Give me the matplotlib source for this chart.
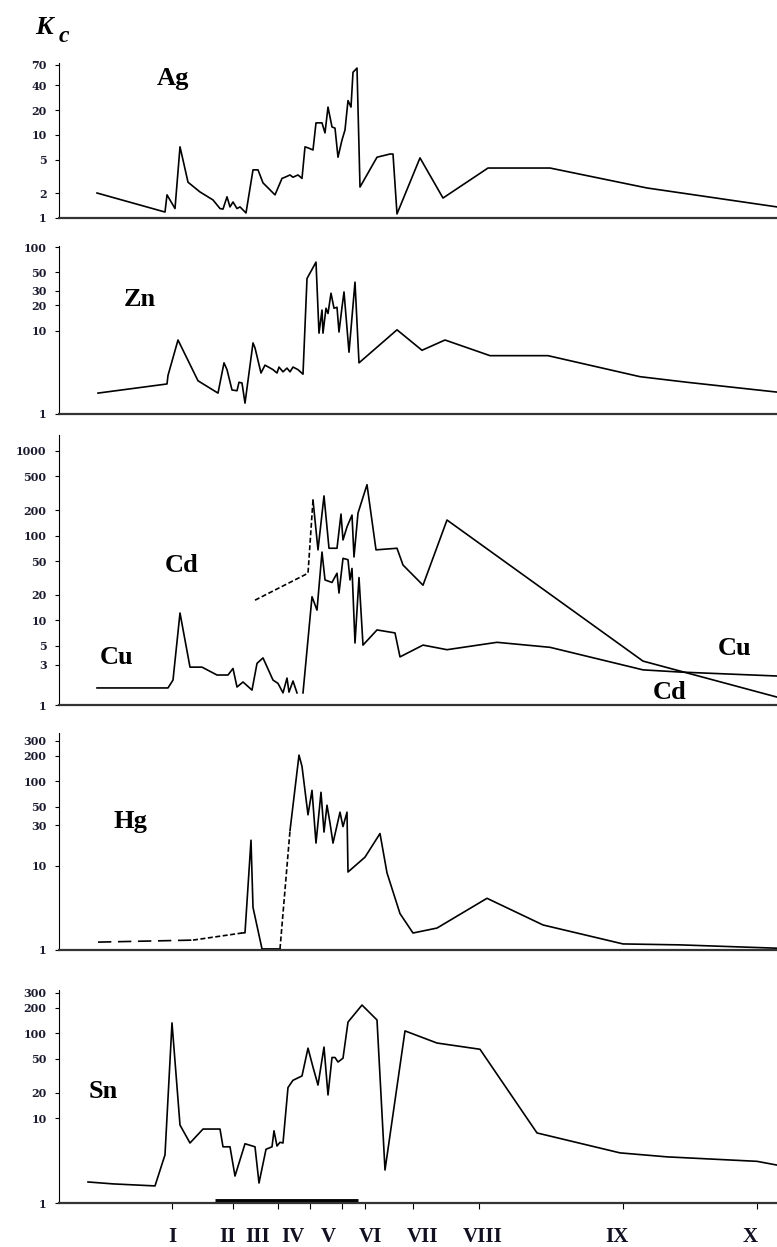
import numpy as np
import matplotlib
matplotlib.use("Agg")
import matplotlib.pyplot as plt
from matplotlib.ticker import FixedLocator, FixedFormatter, NullLocator

plt.rcParams['font.family'] = ['Liberation Serif', 'DejaVu Serif']

# x = distance along profile (chart units), y = Kc
ag_x = [97,165,167,175,180,183,188,200,213,220,223,227,230,233,237,240,246,253,258,263,
        275,282,285,290,293,298,302,305,308,313,316,322,325,328,332,335,338,342,345,348,
        351,353,357,360,377,390,393,397,420,443,488,550,647,777]
ag_y = [2.0,1.18,1.9,1.3,7.2,5.0,2.7,2.06,1.65,1.3,1.28,1.8,1.36,1.56,1.3,1.36,1.15,3.8,3.8,2.65,
        1.9,3.0,3.1,3.3,3.1,3.3,3.0,7.2,7.0,6.6,14,14,10.6,21.7,12.5,12.1,5.4,8.7,11.5,26,
        21.7,57,64,2.36,5.4,5.9,5.9,1.12,5.3,1.74,4.0,4.0,2.3,1.36]

zn_x = [98,167,168,178,198,218,224,227,232,237,239,242,245,253,255,261,265,273,277,279,
        283,287,290,293,298,303,307,316,319,322,323,326,328,331,334,337,339,342,344,349,
        355,359,397,422,445,490,548,640,687,777]
zn_y = [1.78,2.29,2.9,7.7,2.5,1.78,4.1,3.4,1.94,1.9,2.4,2.35,1.35,7.1,6.2,3.1,3.85,3.4,3.1,3.65,
        3.2,3.55,3.2,3.65,3.4,3.0,42,66,9.3,17.6,9.3,18.5,16,28,18.5,19,9.6,19,29,5.5,
        38,4.1,10.2,5.8,7.7,5.0,5.0,2.8,2.4,1.83]

cu_x1 = [97,168,173,180,190,202,217,228,233,237,243,252,257,263,273,278,283,287,289,293,297]
cu_y1 = [1.59,1.59,1.97,12.2,2.8,2.8,2.26,2.26,2.7,1.63,1.87,1.5,3.1,3.6,1.97,1.8,1.39,2.08,1.42,1.92,1.39]
cu_x2 = [303,312,317,322,325,332,337,339,343,348,350,352,355,359,363,377,395,400,423,447,497,550,643,680,777]
cu_y2 = [1.39,19,13.2,64,30,28,36,21,54,52,30,41,5.4,32,5.1,7.7,7.1,3.7,5.1,4.5,5.5,4.8,2.6,2.45,2.2]

cd_dash_x = [255,308,313]
cd_dash_y = [17.3,36,263]
cd_x = [313,318,324,329,337,341,343,347,352,354,358,367,376,397,403,423,447,643,777]
cd_y = [263,68,295,71,71,180,89,127,175,56,185,400,68,71,45,26,153,3.3,1.24]

hg_d1_x = [98,193]
hg_d1_y = [1.24,1.31]
hg_d2_x = [193,242]
hg_d2_y = [1.31,1.59]
hg_s1_x = [242,245,251,253,262,280]
hg_s1_y = [1.59,1.6,20,3.2,1.03,1.03]
hg_d3_x = [280,290]
hg_d3_y = [1.03,26]
hg_s2_x = [290,299,302,308,312,316,321,324,327,330,333,340,343,347,348,365,380,387,400,413,
           437,487,543,623,680,777]
hg_s2_y = [26,204,150,40,78,18.5,74,25,52,32,18.5,43,29,43,8.4,12.6,24,8.2,2.7,1.59,
           1.82,4.1,1.98,1.18,1.15,1.05]

sn_x = [88,113,155,165,172,180,190,203,220,223,230,235,245,255,259,266,272,274,277,280,
        283,288,293,302,308,313,318,324,328,332,335,338,343,348,362,377,385,405,437,480,
        537,620,667,757,777]
sn_y = [1.77,1.68,1.59,3.7,133,8.3,5.1,7.45,7.45,4.6,4.6,2.08,5.0,4.6,1.72,4.3,4.6,7.1,4.7,5.2,
        5.1,23,28,31.5,67,40,24.6,69,18.8,52,52,46,51,136,216,144,2.45,107,77,65,
        6.7,3.9,3.5,3.1,2.8]

# zones on the bottom axis
zone_ticks = [172,233,278,310,342,365,413,479,623,757]
zone_pos = [172,227,258,293,328,370,423,483,617,750]
zone_names = ['I','II','III','IV','V','VI','VII','VIII','IX','X']
bar_x = [215,358]

ag_ticks = [1,2,5,10,20,40,70]
zn_ticks = [1,10,20,30,50,100]
cd_ticks = [1,3,5,10,20,50,100,200,500,1000]
hg_ticks = [1,10,30,50,100,200,300]
sn_ticks = [1,10,20,50,100,200,300]

W, H = 777, 1247
fig = plt.figure(figsize=(W/100, H/100), dpi=100)

def make_ax(top, bottom, ymax, ticks):
    ax = fig.add_axes([59/W, 1-bottom/H, 1-59/W, (bottom-top)/H])
    ax.set_yscale('log')
    ax.set_xlim(59, 777)
    ax.set_ylim(1, ymax)
    ax.yaxis.set_major_locator(FixedLocator(ticks))
    ax.yaxis.set_major_formatter(FixedFormatter([str(t) for t in ticks]))
    ax.yaxis.set_minor_locator(NullLocator())
    ax.set_xticks([])
    ax.spines['top'].set_visible(False)
    ax.spines['right'].set_visible(False)
    ax.spines['left'].set_linewidth(0.8)
    ax.spines['bottom'].set_linewidth(1.6)
    ax.spines['bottom'].set_color('#333333')
    ax.tick_params(axis='y', length=3, width=0.8, pad=6)
    for lab in ax.get_yticklabels():
        lab.set_fontfamily('DejaVu Serif')
        lab.set_fontsize(8)
        lab.set_fontweight('bold')
        lab.set_color('#1c1c30')
    return ax

lw = 1.2
lbl = dict(fontsize=19, fontweight='bold', ha='center', va='center')

ax1 = make_ax(63, 218, 73.7, ag_ticks)
ax1.plot(ag_x, ag_y, color='k', lw=lw)
ax1.text(173, 48.6, 'Ag', **lbl)

ax2 = make_ax(246, 414, 103, zn_ticks)
ax2.plot(zn_x, zn_y, color='k', lw=lw)
ax2.text(140, 23.3, 'Zn', **lbl)

ax3 = make_ax(435, 705, 1545, cd_ticks)
ax3.plot(cu_x1, cu_y1, color='k', lw=lw)
ax3.plot(cu_x2, cu_y2, color='k', lw=lw)
ax3.plot(cd_dash_x, cd_dash_y, color='k', lw=lw, ls=(0, (3, 1.5)))
ax3.plot(cd_x, cd_y, color='k', lw=lw)
ax3.text(182, 45, 'Cd', **lbl)
ax3.text(117, 3.6, 'Cu', **lbl)
ax3.text(735, 4.7, 'Cu', **lbl)
ax3.text(670, 1.42, 'Cd', **lbl)

ax4 = make_ax(733, 950, 373, hg_ticks)
ax4.plot(hg_d1_x, hg_d1_y, color='k', lw=lw, ls=(0, (8, 4)))
ax4.plot(hg_d2_x, hg_d2_y, color='k', lw=lw, ls=(0, (3, 1.5)))
ax4.plot(hg_s1_x, hg_s1_y, color='k', lw=lw)
ax4.plot(hg_d3_x, hg_d3_y, color='k', lw=lw, ls=(0, (3, 1.5)))
ax4.plot(hg_s2_x, hg_s2_y, color='k', lw=lw)
ax4.text(130, 33, 'Hg', **lbl)

ax5 = make_ax(990, 1203, 325, sn_ticks)
ax5.plot(sn_x, sn_y, color='k', lw=lw)
ax5.plot(bar_x, [1.06, 1.06], color='k', lw=3.5, solid_capstyle='butt')
ax5.text(103, 20.4, 'Sn', **lbl)
ax5.set_xticks(zone_ticks)
ax5.set_xticklabels([''] * len(zone_ticks))
ax5.tick_params(axis='x', length=4, width=0.8, direction='out')
for xp, name in zip(zone_pos, zone_names):
    ax5.text(xp, -0.16, name, transform=ax5.get_xaxis_transform(),
             fontsize=15, fontweight='bold', ha='center', va='center', color='#111122')

fig.text(44/W, 1-27/H, 'K', fontsize=19, fontweight='bold', style='italic',
         ha='center', va='center')
fig.text(64/W, 1-36/H, 'c', fontsize=17, fontweight='bold', style='italic',
         ha='center', va='center')

fig.savefig('out.png', dpi=100)
